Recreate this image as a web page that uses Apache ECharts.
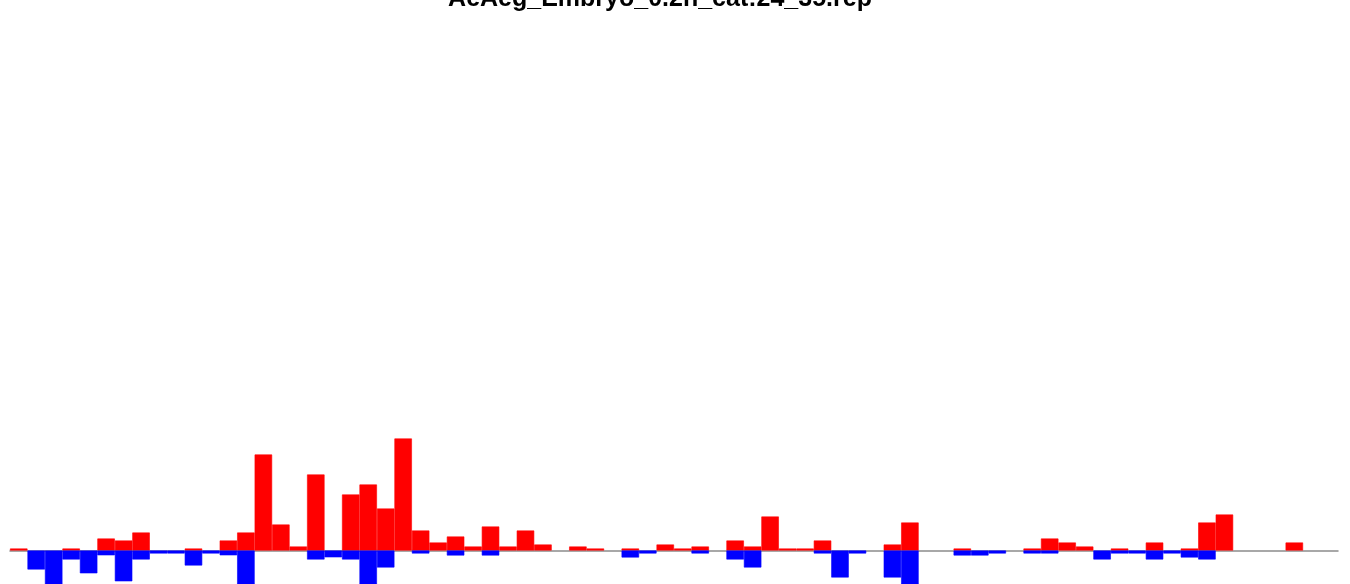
<!DOCTYPE html>
<html>
<head>
<meta charset="utf-8">
<script src="https://cdn.jsdelivr.net/npm/echarts@6/dist/echarts.min.js"></script>
<style>
  html, body { margin: 0; padding: 0; background: #ffffff; }
  #chart { width: 1350px; height: 584px; }
</style>
</head>
<body>
<div id="chart"></div>
<script>
const titleText = "AeAeg_Embryo_0.2h_cat:24_35.rep";

// 76 positions along the repeat
const categories = [];
for (let i = 1; i <= 76; i++) categories.push(String(i));

// positive (red) values
const redValues = [
  1, 0, 0, 1, 0, 6, 5, 9, 0, 0,
  1, 0, 5, 9, 48, 13, 2, 38, 0, 28,
  33, 21, 56, 10, 4, 7, 2, 12, 2, 10,
  3, 0, 2, 1, 0, 1, 0, 3, 1, 2,
  0, 5, 2, 17, 1, 1, 5, 0, 0, 0,
  3, 14, 0, 0, 1, 0, 0, 0, 1, 6,
  4, 2, 0, 1, 0, 4, 0, 1, 14, 18,
  0, 0, 0, 4, 0, 0
];

// negative (blue) values
const blueValues = [
  0, -9.5, -21, -4.5, -11.4, -2.4, -15.4, -4.5, -1.5, -1.5,
  -7.5, -1.5, -2.4, -20, 0, 0, 0, -4.5, -3.4, -4.5,
  -20, -8.5, 0, -1.5, 0, -2.5, 0, -2.5, 0, 0,
  0, 0, 0, 0, 0, -3.5, -1.5, 0, 0, -1.5,
  0, -4.5, -8.5, 0, 0, 0, -1.5, -13.5, -1.5, 0,
  -13.5, -21, 0, 0, -2.5, -2.5, -1.5, 0, -1.5, -1.5,
  0, 0, -4.5, -1.5, -1.5, -4.5, -1.5, -3.5, -4.5, 0,
  0, 0, 0, 0, 0, 0
];

// empty cells are not drawn at all
const toBarData = arr => arr.map(v => (v === 0 ? '-' : v));

const chart = echarts.init(document.getElementById('chart'), null, { renderer: 'canvas' });
chart.setOption({
  animation: false,
  backgroundColor: '#ffffff',
  graphic: [{
    type: 'text',
    x: 660,
    y: -1,
    style: {
      text: titleText,
      fontFamily: '"Liberation Sans", Arial, sans-serif',
      fontWeight: 'bold',
      fontSize: 25,
      fill: '#000000',
      align: 'center',
      verticalAlign: 'middle'
    }
  }],
  grid: { left: 10, right: 12, top: 50.5, bottom: 0, containLabel: false },
  xAxis: {
    type: 'category',
    data: categories,
    boundaryGap: true,
    axisLine: { show: true, onZero: true, lineStyle: { color: '#8c8c8c', width: 1.5 } },
    axisTick: { show: false },
    axisLabel: { show: false },
    splitLine: { show: false }
  },
  yAxis: {
    type: 'value',
    min: -16.75,
    max: 250,
    show: false,
    splitLine: { show: false }
  },
  series: [
    {
      type: 'bar',
      data: toBarData(redValues),
      itemStyle: { color: '#ff0000', borderColor: '#ff0000', borderWidth: 0.6 },
      barGap: '-100%',
      barCategoryGap: '0%',
      z: 2
    },
    {
      type: 'bar',
      data: toBarData(blueValues),
      itemStyle: { color: '#0000ff', borderColor: '#0000ff', borderWidth: 0.6 },
      barGap: '-100%',
      barCategoryGap: '0%',
      z: 3
    }
  ]
});
</script>
</body>
</html>
